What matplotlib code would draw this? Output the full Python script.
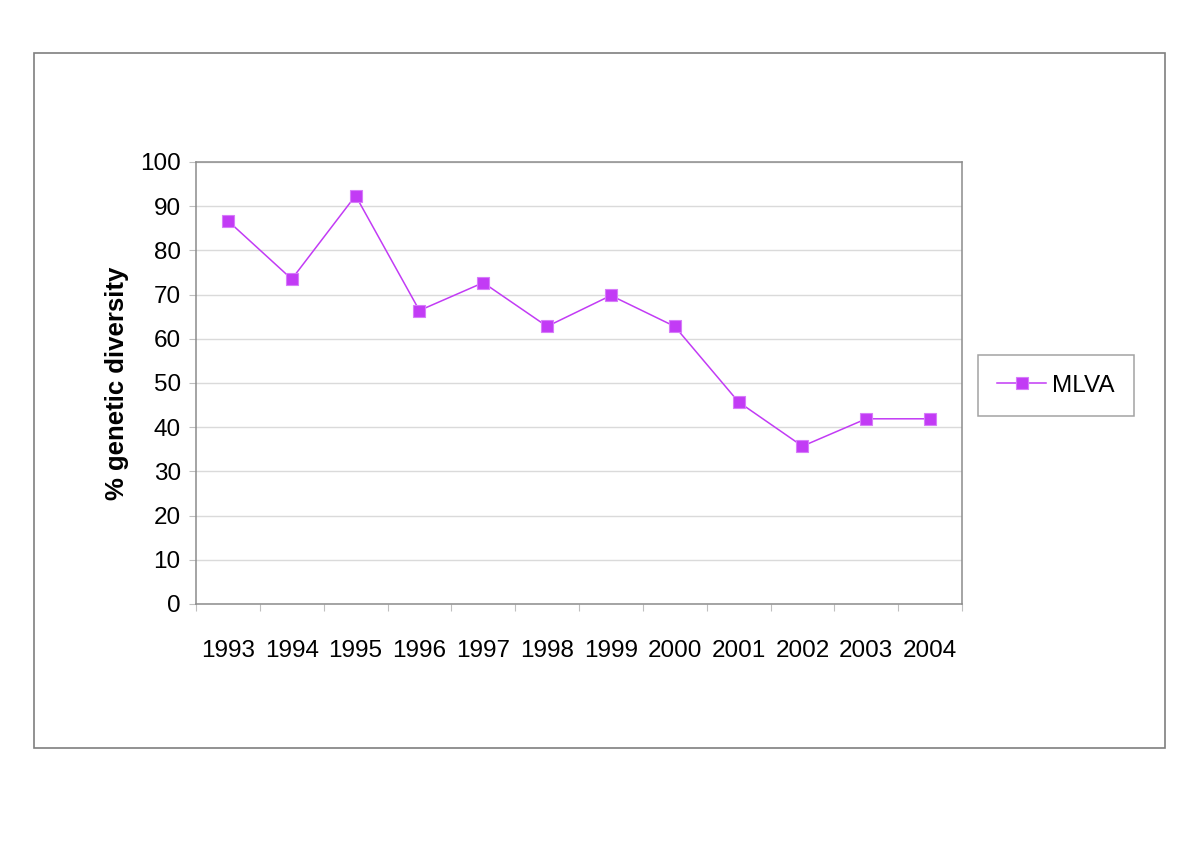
import matplotlib
matplotlib.use("Agg")
import matplotlib.pyplot as plt
from matplotlib.patches import Rectangle

# data
years = ["1993", "1994", "1995", "1996", "1997", "1998",
         "1999", "2000", "2001", "2002", "2003", "2004"]
diversity = [86.7, 73.5, 92.4, 66.4, 72.7, 62.8,
             69.8, 62.8, 45.7, 35.7, 41.9, 41.9]
series_name = "MLVA"

plt.rcParams["font.family"] = ["Liberation Sans", "DejaVu Sans"]

line_col = "#C23BF5"
frame_col = "#8C8C8C"

fig = plt.figure(figsize=(12, 8.49), dpi=100)
fig.patch.set_facecolor("white")

# outer frame around the whole chart
fig.patches.append(Rectangle((34 / 1200, 1 - 748 / 849), (1165 - 34) / 1200, (748 - 53) / 849,
                             transform=fig.transFigure, fill=False,
                             edgecolor="#7F7F7F", linewidth=1.2))

ax = fig.add_axes([196 / 1200, 1 - 604 / 849, (962 - 196) / 1200, (604 - 162) / 849])

xpos = [i + 0.5 for i in range(len(years))]
ax.plot(xpos, diversity, color=line_col, linewidth=1.1, marker="s",
        markersize=8, markerfacecolor=line_col, markeredgecolor="#D77CFA",
        markeredgewidth=0.8, label=series_name)

ax.set_xlim(0, len(years))
ax.set_ylim(0, 100)
ax.set_yticks(range(0, 101, 10))
ax.yaxis.grid(True, color="#DADADA", linewidth=1)
ax.set_axisbelow(True)

# tick marks at category boundaries, labels at centres
ax.set_xticks(range(0, len(years) + 1))
ax.set_xticklabels([])
ax.set_xticks(xpos, minor=True)
ax.set_xticklabels(years, minor=True)
ax.tick_params(axis="x", which="major", length=5, color="#BFBFBF", direction="out")
ax.tick_params(axis="x", which="minor", length=0, pad=26, labelsize=17.5)
ax.tick_params(axis="y", length=5, color="#BFBFBF", pad=6, labelsize=17.5)

for s in ax.spines.values():
    s.set_color(frame_col)
    s.set_linewidth(1.1)

ax.set_ylabel("% genetic diversity", fontsize=18.5, fontweight="bold", labelpad=8)

leg = ax.legend(loc="center left", bbox_to_anchor=(978 / 1200, 1 - 385.5 / 849),
                bbox_transform=fig.transFigure, borderaxespad=0, fancybox=False,
                edgecolor="#8C8C8C", fontsize=17.5, handlelength=2.0,
                borderpad=0.8, handletextpad=0.25)
leg.get_frame().set_linewidth(1.1)

fig.savefig("out.png", dpi=100)
